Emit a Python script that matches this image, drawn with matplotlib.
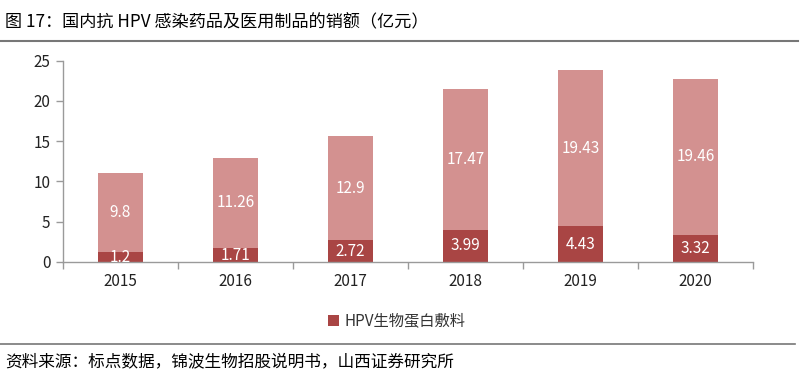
import matplotlib
matplotlib.use("Agg")
import matplotlib.pyplot as plt
from matplotlib.lines import Line2D
from matplotlib.patches import Patch
import numpy as np

plt.rcParams['font.family'] = ['Noto Sans CJK SC', 'DejaVu Sans']

years = ['2015', '2016', '2017', '2018', '2019', '2020']
hpv_protein = [1.2, 1.71, 2.72, 3.99, 4.43, 3.32]
other_products = [9.8, 11.26, 12.9, 17.47, 19.43, 19.46]
yticks = [0, 5, 10, 15, 20, 25]

title = '图 17：国内抗 HPV 感染药品及医用制品的销额（亿元）'
source = '资料来源：标点数据，锦波生物招股说明书，山西证券研究所'
legend_label = 'HPV生物蛋白敷料'

dark = '#A94544'
light = '#D39190'
axis_gray = '#9A9A9A'

W, H = 807, 380
fig = plt.figure(figsize=(W / 100, H / 100), dpi=100)
ax = fig.add_axes([63 / W, 1 - 262 / H, (753 - 63) / W, (262 - 60.7) / H])

x = np.arange(len(years))
bw = 0.39
ax.bar(x, hpv_protein, width=bw, color=dark, zorder=2)
ax.bar(x, other_products, width=bw, bottom=hpv_protein, color=light, zorder=2)

for i in range(len(years)):
    ax.text(x[i], hpv_protein[i] / 2, f'{hpv_protein[i]:g}', ha='center', va='center',
            color='white', fontsize=11, zorder=3)
    ax.text(x[i], hpv_protein[i] + other_products[i] / 2, f'{other_products[i]:g}',
            ha='center', va='center', color='white', fontsize=11, zorder=3)

ax.set_xlim(-0.5, len(years) - 0.5)
ax.set_ylim(0, 25)
ax.set_yticks(yticks)
ax.set_yticklabels([str(v) for v in yticks], fontsize=11, color='#222222')
ax.set_xticks(x)
ax.set_xticklabels(years, fontsize=11, color='#222222')
ax.tick_params(axis='x', length=0, pad=8)
ax.set_xticks(np.arange(-0.5, len(years), 1.0), minor=True)
ax.tick_params(axis='x', which='minor', length=5, color=axis_gray, width=1)
ax.tick_params(axis='y', length=5, color=axis_gray, width=1, pad=4)
for s in ['top', 'right']:
    ax.spines[s].set_visible(False)
for s in ['left', 'bottom']:
    ax.spines[s].set_color(axis_gray)
    ax.spines[s].set_linewidth(1)

# legend
handles = [Patch(facecolor=dark, edgecolor='none')]
fig.legend(handles, [legend_label], loc='center', bbox_to_anchor=(397 / W, 1 - 321 / H),
           frameon=False, fontsize=11, handlelength=0.7, handleheight=0.7,
           handletextpad=0.4, labelcolor='#333333')

# title and source
fig.text(5 / W, 1 - 22 / H, title, fontsize=12.3, va='center', ha='left', color='black')
fig.text(5 / W, 1 - 362 / H, source, fontsize=12, va='center', ha='left', color='black')
fig.add_artist(Line2D([0, 798 / W], [1 - 41 / H, 1 - 41 / H], color='#777777', lw=1.5))
fig.add_artist(Line2D([0, 795 / W], [1 - 344 / H, 1 - 344 / H], color='#777777', lw=1.2))

fig.savefig('out.png', dpi=100)
